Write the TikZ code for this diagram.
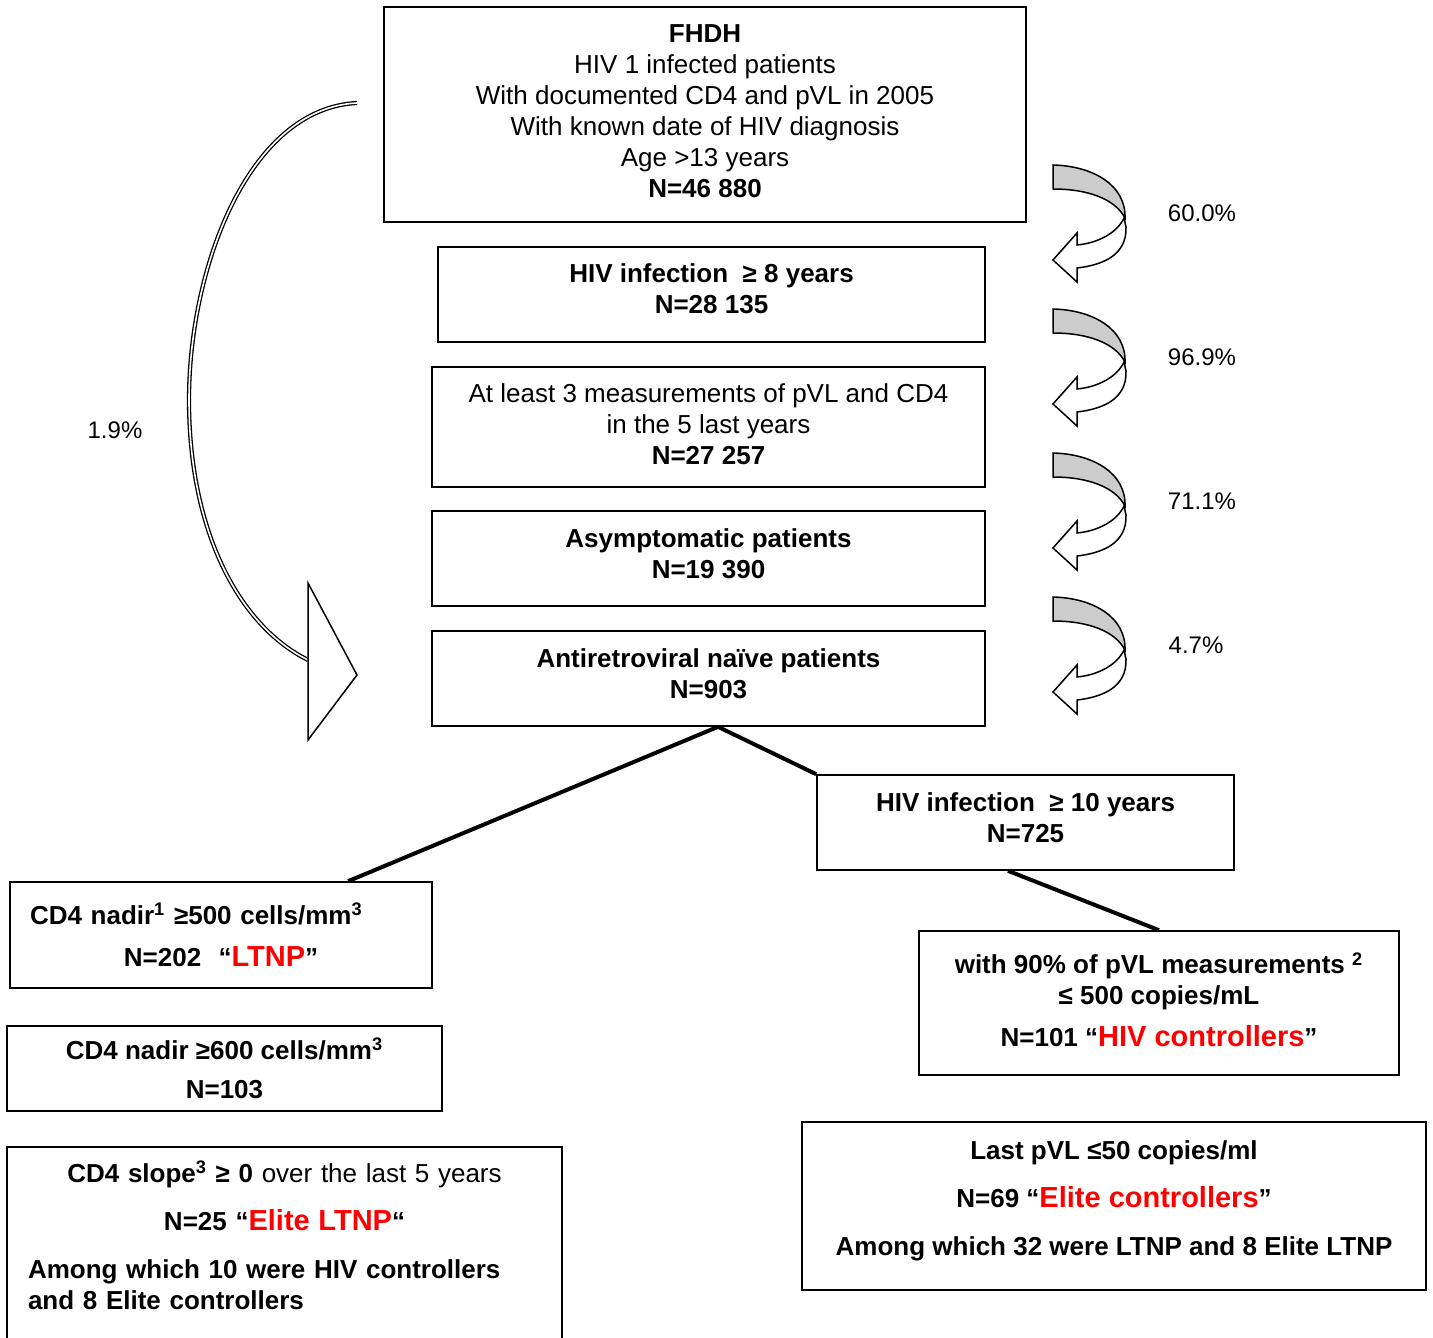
\documentclass[tikz,border=0pt]{standalone}
\usepackage{fontspec}
\setmainfont{Liberation Sans}
\usetikzlibrary{positioning, calc}

\newcommand{\redname}[1]{{\color{red}\fontsize{14.5pt}{15.5pt}\selectfont #1}}

\begin{document}
\begin{tikzpicture}[
    x=0.5pt, y=-0.5pt,
    every node/.style={font=\fontsize{13pt}{15.5pt}\selectfont, align=center},
    box/.style={
        draw,
        line width=0.8pt,
        inner sep=0pt,
        text centered
    },
    stagebox/.style={
        box,
        minimum width=276.5pt,
        minimum height=47.5pt
    },
    lift/.style={execute at end node={\rule[-#1]{0pt}{0pt}}},
    pct/.style={font=\fontsize{12pt}{14pt}\selectfont},
    link/.style={line width=2pt},
    turnband/.style={draw, line width=0.75pt, fill=black!20},
    turnhead/.style={draw, line width=0.75pt, fill=white}
]
\useasboundingbox (0,0) rectangle (1433,1337);

\node[box, lift=3pt, minimum width=321pt, minimum height=107.5pt] (fhdh) at (705,114.5)
{\textbf{FHDH}\\HIV 1 infected patients\\With documented CD4 and pVL in 2005\\With known date of HIV diagnosis\\Age >13 years\\\textbf{N=46 880}};

\node[box, lift=5.5pt, minimum width=273.5pt, minimum height=47.5pt, below=11.7pt of fhdh, xshift=3.25pt] (years8)
{\textbf{HIV infection~ ≥ 8 years}\\\textbf{N=28 135}};

\node[box, lift=2.5pt, minimum width=276.5pt, minimum height=60pt, below=11.7pt of years8, xshift=-1.5pt] (measures)
{At least 3 measurements of pVL and CD4\\in the 5 last years\\\textbf{N=27 257}};

\node[stagebox, lift=5pt, below=11.2pt of measures] (asympt)
{\textbf{Asymptomatic patients}\\\textbf{N=19 390}};

\node[stagebox, lift=5pt, below=11.7pt of asympt] (naive)
{\textbf{Antiretroviral naïve patients}\\\textbf{N=903}};

\node[box, lift=5pt, minimum width=208.5pt, minimum height=47.5pt] (years10) at (1025.5,822.5)
{\textbf{HIV infection~ ≥ 10 years}\\\textbf{N=725}};

\node[box, minimum height=53pt, text width=191pt, inner xsep=10pt] (nadir500) at (221,935)
{\raggedright\textbf{CD4 nadir\textsuperscript{1} ≥500 cells/mm\textsuperscript{3}}\par
\vspace{5.5pt}\centering\textbf{N=202~ “\redname{LTNP}”}\par};

\node[box, minimum width=217.5pt, minimum height=42.5pt] (nadir600) at (224.5,1068.5)
{\textbf{CD4 nadir ≥600 cells/mm\textsuperscript{3}}\\[4pt]\textbf{N=103}};

\node[box, anchor=north, text width=256.5pt, inner xsep=10.5pt, inner ysep=7pt] (slope) at (284.5,1146)
{\centering\textbf{CD4 slope\textsuperscript{3} ≥ 0} over the last 5 years\\[8.5pt]
\textbf{N=25 “\redname{Elite LTNP}“}\par
\vspace{8.5pt}\raggedright\textbf{Among which 10 were HIV controllers\\and 8 Elite controllers}\par
\vspace{20pt}\hbox{}};

\node[box, lift=3.5pt, minimum width=240pt, minimum height=72pt] (pvl500) at (1159,1003)
{\textbf{with 90\% of pVL measurements \textsuperscript{2}}\\\textbf{≤ 500 copies/mL}\\[5.5pt]\textbf{N=101 “\redname{HIV controllers}”}};

\node[box, lift=8.2pt, minimum width=312pt, minimum height=84pt] (elite) at (1114,1206)
{\textbf{Last pVL ≤50 copies/ml}\\[8.5pt]\textbf{N=69 “\redname{Elite controllers}”}\\[8.5pt]\textbf{Among which 32 were LTNP and 8 Elite LTNP}};

% percentages
\node[pct] (pctA) at (1202,213) {60.0\%};
\node[pct] (pctB) at (1202,357) {96.9\%};
\node[pct] (pctC) at (1202,501) {71.1\%};
\node[pct] (pctD) at (1196,645) {4.7\%};
\node[pct] (pctAll) at (115,430) {1.9\%};

% turning arrows
\foreach \y in {165,309,453,597}{
  \begin{scope}[shift={(1053,\y)}]
    \path[turnband] (0,0) .. controls (40,1) and (73,20) .. (72,53) .. controls (62,34) and (35,24) .. (0,24) -- cycle;
    \path[turnhead] (71,53) .. controls (64,68) and (45,78) .. (24,80) -- (24,68) -- (0,95) -- (24,117) -- (24,103) .. controls (50,100) and (74,90) .. (73,62) -- cycle;
  \end{scope}
}

% overall arrow
\draw[double=white, double distance=0.8pt, line width=0.65pt] (357,103) .. controls (250,108) and (189,265) .. (189,400) .. controls (189,530) and (238,625) .. (308,660);
\draw[line width=0.75pt, fill=white] (308,583) -- (357,675) -- (308,740) -- cycle;

% branches
\draw[link] ([xshift=4.75pt]naive.south) -- ($(nadir500.north west)!0.8!(nadir500.north east)$);
\draw[link] ([xshift=4.75pt]naive.south) -- (years10.north west);
\draw[link] ([xshift=-8.75pt]years10.south) -- (pvl500.north);

\end{tikzpicture}
\end{document}
